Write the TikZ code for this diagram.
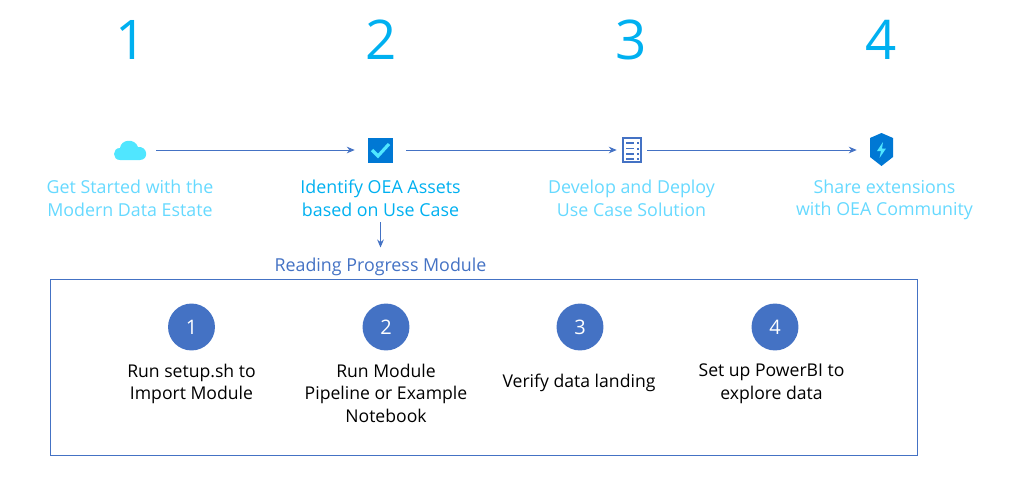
\documentclass[tikz,border=0pt]{standalone}
\usepackage{fontspec}
\setmainfont{Open Sans}
\usetikzlibrary{arrows.meta}
\definecolor{oeablue}{HTML}{4472C4}
\definecolor{numcyan}{HTML}{00B0F0}
\definecolor{palecyan}{HTML}{66D9FF}
\definecolor{iconblue}{HTML}{0078D4}
\definecolor{iconcyan}{HTML}{50E6FF}
\tikzset{
  bignum/.style={text=numcyan,font=\fontsize{41}{41}\selectfont,inner sep=0pt},
  steptext/.style={align=center,inner sep=0pt,font=\fontsize{13.2}{16.9}\selectfont},
  headtext/.style={align=center,inner sep=0pt,font=\fontsize{13.38}{16.9}\selectfont},
  iconbox/.style={minimum height=20pt,inner sep=0pt},
  numdot/.style={circle,fill=oeablue,text=white,minimum size=35.2pt,inner sep=0pt,font=\fontsize{15}{15}\selectfont},
  flow/.style={-{Stealth[length=6pt,width=5pt]},draw=oeablue,line width=0.75pt}
}
\begin{document}
\begin{tikzpicture}[x=0.75pt,y=-0.75pt]
\useasboundingbox (0,0) rectangle (1009,482);
% numbers on top
\node[bignum] (numa) at (131,40) {1};
\node[bignum] (numb) at (381,40) {2};
\node[bignum] (numc) at (631,40) {3};
\node[bignum] (numd) at (881.5,40) {4};
% icons
\node[iconbox,minimum width=39pt] (cloud) at (130,150) {};
\node[iconbox,minimum width=38.25pt] (check) at (380.5,150) {};
\node[iconbox,minimum width=22.5pt] (list) at (632,150) {};
\node[iconbox,minimum width=36.75pt] (shield) at (881.5,150) {};
\fill[iconcyan] (120,160) .. controls (112,160) and (112,148) .. (120,148)
  .. controls (121,139) and (135,138) .. (138,147)
  .. controls (148,146) and (149,160) .. (140,160) -- cycle;
\fill[iconblue] (368,137.5) rectangle (393,162.5);
\draw[iconcyan,line width=2.4pt] (372,150) -- (378,156) -- (389,144);
\draw[oeablue,line width=1pt,fill=white] (623,138) rectangle (641,162);
\foreach \ya in {143,148.5,154,159} {
  \draw[oeablue,line width=0.8pt] (626,\ya) -- (634,\ya);
  \fill[oeablue] (636.5,\ya-1) rectangle (638.5,\ya+1);
}
\fill[iconblue] (881.5,133) -- (893,138) -- (893,157) -- (881.5,166) -- (870,157) -- (870,138) -- cycle;
\fill[iconcyan] (883,142) -- (877,151) -- (881,151) -- (879.5,158) -- (886,148.5) -- (882,148.5) -- cycle;
% titles
\node[headtext,text=palecyan] (titlea) at (130,198.5) {Get Started with the\\Modern Data Estate};
\node[headtext,text=numcyan] (titleb) at (380.5,198.5) {Identify OEA Assets\\based on Use Case};
\node[headtext,text=palecyan] (titlec) at (631.5,198.5) {Develop and Deploy\\Use Case Solution};
\node[headtext,text=palecyan] (titled) at (884.5,200) {Share extensions\\with OEA Community};
\node[headtext,text=oeablue] (module) at (380.5,267) {Reading Progress Module};
% flow
\draw[flow] (cloud) -- (check);
\draw[flow] (check) -- (list);
\draw[flow] (list) -- (shield);
\coordinate (modfrom) at (380.5,222);
\coordinate (modto) at (380.5,247.5);
\draw[flow] (modfrom) -- (modto);
% module box
\node[draw=oeablue,line width=0.75pt,minimum width=650pt,minimum height=132.4pt,inner sep=0pt] (modbox) at (484,367.5) {};
\node[numdot] (dota) at (191.5,327) {1};
\node[numdot] (dotb) at (386,327) {2};
\node[numdot] (dotc) at (580,327) {3};
\node[numdot] (dotd) at (775,327) {4};
\node[steptext,anchor=north] (runa) at (191.5,363.5) {Run setup.sh to\\Import Module};
\node[steptext,anchor=north] (runb) at (386,363.5) {Run Module\\Pipeline or Example\\Notebook};
\node[steptext,anchor=north] (runc) at (579,374) {Verify data landing};
\node[steptext,anchor=north] (rund) at (771.5,363.5) {Set up PowerBI to\\explore data};
\end{tikzpicture}
\end{document}
